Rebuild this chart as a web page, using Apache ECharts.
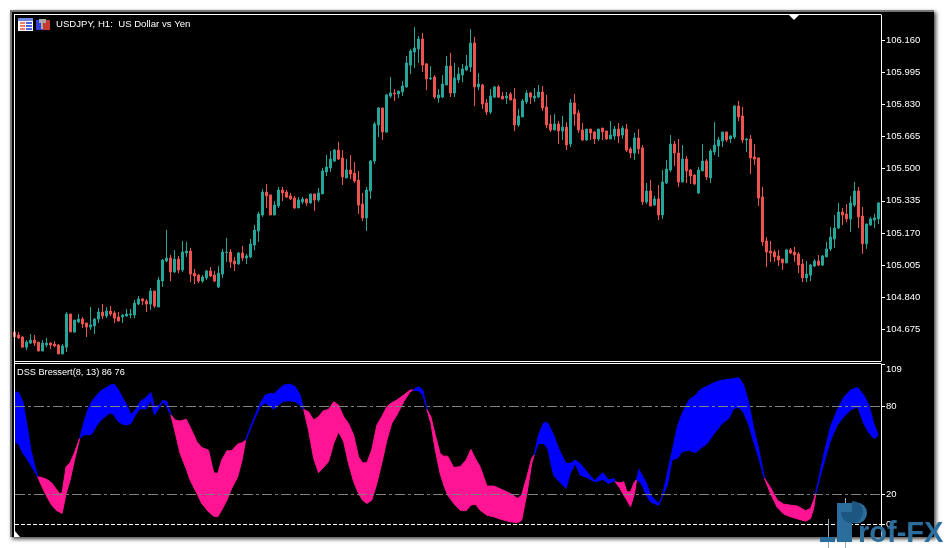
<!DOCTYPE html>
<html>
<head>
<meta charset="utf-8">
<title>USDJPY H1</title>
<script src="https://cdn.jsdelivr.net/npm/echarts@6/dist/echarts.min.js"></script>
<style>
html, body { margin: 0; padding: 0; background: #fff; }
#main { width: 947px; height: 548px; }
</style>
</head>
<body>
<div id="main"></div>
<script>
const opens = [
  104.662,104.646,104.636,104.584,104.605,104.620,104.610,104.564,104.595,104.605,
  104.600,104.595,104.549,104.584,104.754,104.662,104.713,104.728,104.708,104.687,
  104.693,104.728,104.764,104.744,104.769,104.759,104.739,104.739,104.744,104.749,
  104.749,104.805,104.831,104.821,104.805,104.872,104.790,104.923,105.026,105.041,
  104.970,105.036,104.980,105.067,105.077,104.964,104.954,104.923,104.939,104.975,
  104.954,104.893,104.959,105.069,105.072,105.026,105.011,105.067,105.041,105.047,
  105.108,105.180,105.262,105.380,105.365,105.262,105.308,105.390,105.380,105.360,
  105.349,105.298,105.329,105.344,105.324,105.370,105.339,105.370,105.483,105.503,
  105.539,105.595,105.554,105.452,105.493,105.477,105.441,105.318,105.247,105.385,
  105.539,105.724,105.811,105.688,105.872,105.888,105.883,105.893,105.919,106.031,
  106.098,106.114,106.165,106.037,105.960,105.970,105.862,105.867,105.929,106.026,
  105.888,105.955,105.980,106.006,106.021,106.144,105.919,105.929,105.837,105.790,
  105.867,105.919,105.872,105.862,105.883,105.857,105.724,105.765,105.842,105.888,
  105.862,105.867,105.893,105.816,105.729,105.698,105.729,105.693,105.713,105.626,
  105.837,105.785,105.698,105.647,105.703,105.688,105.652,105.708,105.693,105.652,
  105.667,105.703,105.672,105.703,105.601,105.580,105.657,105.606,105.329,105.385,
  105.313,105.344,105.262,105.426,105.493,105.626,105.580,105.431,105.549,105.493,
  105.467,105.375,105.488,105.539,105.452,105.585,105.616,105.642,105.688,105.652,
  105.662,105.821,105.770,105.647,105.652,105.560,105.555,105.354,105.129,105.077,
  105.072,105.052,105.036,105.016,105.083,105.072,105.062,105.011,104.939,104.954,
  105.000,105.026,105.005,105.047,105.088,105.139,105.195,105.277,105.267,105.242,
  105.313,105.385,105.257,105.114,105.211,105.236,105.242
];
const closes = [
  104.638,104.631,104.584,104.610,104.620,104.605,104.564,104.605,104.605,104.595,
  104.590,104.549,104.590,104.754,104.662,104.723,104.728,104.703,104.687,104.698,
  104.728,104.764,104.744,104.769,104.754,104.733,104.718,104.749,104.754,104.754,
  104.810,104.831,104.821,104.805,104.872,104.795,104.928,105.031,105.041,104.970,
  105.036,104.980,105.072,105.077,104.959,104.949,104.923,104.944,104.975,104.949,
  104.923,104.964,105.072,105.072,105.021,105.011,105.067,105.041,105.052,105.113,
  105.185,105.267,105.380,105.360,105.262,105.313,105.390,105.375,105.354,105.344,
  105.298,105.339,105.344,105.324,105.370,105.339,105.375,105.488,105.508,105.549,
  105.595,105.549,105.457,105.493,105.472,105.436,105.313,105.247,105.390,105.539,
  105.729,105.811,105.688,105.878,105.888,105.883,105.898,105.924,106.042,106.103,
  106.119,106.165,106.031,105.960,105.965,105.867,105.878,105.934,106.026,105.888,
  105.965,105.985,106.011,106.026,106.144,105.919,105.934,105.831,105.790,105.872,
  105.919,105.867,105.857,105.872,105.852,105.724,105.770,105.847,105.888,105.867,
  105.872,105.893,105.811,105.724,105.698,105.729,105.693,105.713,105.621,105.837,
  105.780,105.698,105.647,105.703,105.683,105.652,105.703,105.688,105.652,105.672,
  105.703,105.667,105.708,105.595,105.580,105.657,105.601,105.329,105.385,105.308,
  105.344,105.262,105.431,105.498,105.626,105.580,105.431,105.549,105.488,105.462,
  105.421,105.493,105.539,105.457,105.590,105.621,105.647,105.688,105.647,105.667,
  105.821,105.765,105.647,105.652,105.555,105.549,105.349,105.124,105.072,105.067,
  105.047,105.031,105.016,105.083,105.067,105.057,105.005,104.939,104.959,105.005,
  105.026,105.005,105.052,105.088,105.149,105.195,105.277,105.262,105.242,105.324,
  105.385,105.252,105.114,105.216,105.242,105.247,105.324
];
const lows = [
  104.638,104.626,104.584,104.569,104.600,104.590,104.564,104.564,104.584,104.574,
  104.584,104.549,104.549,104.559,104.662,104.657,104.708,104.682,104.636,104.672,
  104.651,104.708,104.728,104.733,104.744,104.708,104.718,104.708,104.739,104.733,
  104.733,104.800,104.800,104.764,104.775,104.785,104.790,104.893,105.021,104.923,
  104.964,104.964,104.970,105.047,104.918,104.908,104.913,104.913,104.928,104.944,
  104.918,104.887,104.939,105.021,104.990,104.975,105.006,105.026,105.011,105.041,
  105.082,105.124,105.252,105.298,105.262,105.262,105.298,105.334,105.349,105.339,
  105.293,105.298,105.318,105.308,105.318,105.283,105.329,105.370,105.462,105.483,
  105.534,105.544,105.416,105.452,105.447,105.426,105.267,105.231,105.180,105.344,
  105.524,105.662,105.647,105.683,105.862,105.847,105.862,105.872,105.914,105.985,
  106.016,106.042,105.996,105.903,105.955,105.857,105.837,105.862,105.929,105.867,
  105.867,105.939,105.944,106.001,105.996,105.821,105.903,105.806,105.775,105.780,
  105.862,105.862,105.857,105.831,105.852,105.693,105.713,105.765,105.831,105.831,
  105.842,105.862,105.796,105.708,105.688,105.698,105.626,105.647,105.595,105.611,
  105.719,105.683,105.642,105.642,105.647,105.626,105.642,105.647,105.647,105.652,
  105.647,105.631,105.652,105.585,105.554,105.544,105.575,105.313,105.318,105.308,
  105.308,105.236,105.242,105.421,105.483,105.513,105.406,105.431,105.426,105.421,
  105.416,105.370,105.488,105.442,105.426,105.570,105.560,105.611,105.637,105.631,
  105.652,105.744,105.631,105.585,105.472,105.519,105.308,105.103,104.995,105.021,
  105.021,105.000,104.980,105.016,105.062,105.021,104.964,104.918,104.918,104.923,
  104.995,105.000,105.000,105.047,105.077,105.093,105.190,105.211,105.226,105.175,
  105.303,105.195,105.062,105.088,105.206,105.195,105.216
];
const highs = [
  104.662,104.662,104.641,104.620,104.651,104.646,104.610,104.620,104.631,104.610,
  104.615,104.600,104.600,104.764,104.754,104.723,104.754,104.739,104.708,104.790,
  104.733,104.785,104.805,104.790,104.795,104.769,104.764,104.754,104.780,104.780,
  104.826,104.846,104.836,104.831,104.887,104.872,104.944,105.036,105.185,105.057,
  105.082,105.052,105.129,105.124,105.093,104.985,104.959,104.954,104.980,104.995,
  104.975,105.000,105.088,105.144,105.088,105.047,105.072,105.103,105.062,105.139,
  105.211,105.278,105.395,105.421,105.365,105.334,105.406,105.406,105.390,105.375,
  105.360,105.354,105.354,105.349,105.370,105.370,105.401,105.503,105.570,105.590,
  105.601,105.637,105.595,105.549,105.570,105.534,105.488,105.375,105.406,105.544,
  105.739,105.816,105.811,105.883,105.970,105.908,105.898,105.949,106.078,106.114,
  106.226,106.180,106.196,106.042,106.026,105.980,105.908,105.980,106.078,106.093,
  106.042,106.021,106.037,106.083,106.216,106.175,105.990,105.934,105.857,105.908,
  105.924,105.929,105.893,105.893,105.893,105.914,105.806,105.857,105.903,105.893,
  105.914,105.929,105.924,105.878,105.775,105.780,105.744,105.770,105.739,105.857,
  105.883,105.801,105.734,105.703,105.703,105.693,105.703,105.708,105.693,105.744,
  105.719,105.734,105.719,105.729,105.611,105.683,105.703,105.621,105.426,105.442,
  105.360,105.416,105.493,105.544,105.672,105.642,105.652,105.621,105.565,105.498,
  105.472,105.508,105.626,105.549,105.601,105.739,105.662,105.688,105.688,105.672,
  105.826,105.847,105.816,105.657,105.672,105.626,105.555,105.406,105.149,105.129,
  105.083,105.083,105.036,105.088,105.093,105.098,105.072,105.036,105.026,105.011,
  105.036,105.057,105.057,105.124,105.200,105.262,105.324,105.298,105.318,105.360,
  105.431,105.406,105.303,105.216,105.252,105.267,105.329
];
const priceTicks = [104.675, 104.840, 105.005, 105.170, 105.335, 105.500, 105.665, 105.830, 105.995, 106.160];

// DSS Bressert band, read at the bends of its two edges
const dssBars = [
  0,1,2.1,3.1,4.1,5.1,5.8,6.8,8.1,9.3,10.6,11.3,11.9,12.9,13.9,14.9,16.3,17.3,18.3,19.3,
  20.6,21.8,23.1,23.9,24.9,26,27.1,28.1,29.1,30.2,31.4,32.9,34.1,35,36.3,37.1,38.1,39.1,
  40.2,41.4,42.9,43.9,45.6,46.8,48.5,49.8,50.8,51.8,53.1,54.3,55.8,56.9,57.8,58.9,60.2,
  61.4,62.7,63.9,64.8,66,67.3,68.9,70.2,71.4,72.3,73.5,74.8,76,77.2,78.5,79.8,81,82.3,
  83.5,84.8,86,87,88.1,89.3,90.6,91.8,93.1,94.3,95.6,97.3,98.9,99.6,101,102.1,103.1,
  104.1,105.2,106.4,107.3,108.3,109.8,111.4,112.9,114.1,115.2,116.4,118.1,119.8,121.8,
  123.9,125.8,126.8,128.1,129.3,129.9,131,132.3,133.3,134.8,136,137.9,138.9,140.2,141.4,
  143.1,145,147.1,148.5,149.9,150.2,151.4,152.3,153.1,154,155,155.5,156.1,156.9,158,159,
  161,161.9,163.2,164.4,165.7,166.9,168.6,170.3,171.5,173.2,174.8,176.9,178.6,179.8,
  181.1,182.3,183.6,184.8,186.1,187.5,189,190.7,192.3,194,195.7,197.8,199,199.8,200.3,
  201.5,202.8,204,205.7,207.3,209,210.8,212.3,213.6,214.8,215.8
];
const dssHigh = [
  90.1,89.6,83.3,67.4,50.3,38.9,32.1,31.7,30.3,28,23.1,20.8,21.2,39,41.7,48,58.3,68.5,77.6,83.3,
  87.8,91.2,93,94.6,95.3,91.2,85.5,81,74.2,77.6,83.3,86.2,89.6,79.9,81,84.4,83.3,74.2,
  70.8,70.1,71.4,66.2,56,52.1,50.3,34.9,34.4,43.5,49.9,49.9,54.4,55.3,57.1,65.5,74.2,
  82.1,87.8,88.9,88.5,91.7,94.6,95.3,93.5,87.8,78,76.4,70.8,73,77.1,78,83.3,81,73,
  68.5,60.5,45.8,41.7,41.7,50.3,67.4,73,79.9,82.6,84.4,87.8,91.2,91.2,93.5,91.2,78,
  73,60.5,48,46.2,46.2,38.5,39,43.5,50.8,44.6,39,25.8,25.8,23.5,
  20.8,17.4,19.7,32.1,44.6,46.9,60.5,68.9,68.9,60.5,51.5,41.2,41.2,43.5,41.2,
  35.5,29.4,34.9,29.9,31,28.7,28,28.7,21.9,21.9,28.7,29.9,37.1,33.3,27.6,19.7,
  14,18.1,34.4,49.2,66.2,75.3,84.4,87.8,91.7,93.9,96.2,98,98.5,99.2,
  99.6,94.6,82.1,65.1,50.3,31,24.9,16.2,13.5,12.8,12.2,9,10.6,16.2,20.8,
  36.7,52.6,66.2,77.6,86.2,91.2,93,87.8,81,68.5,61.7
];
const dssLow = [
  55.3,54.9,48,44.6,40.1,35.5,32.1,25.8,18.5,12.8,9,8,7.2,20.8,29.9,42.4,58.3,60.8,60.8,61.2,
  67.4,71.2,74.2,75.8,74.2,69.6,68,67.4,68.5,74.2,78.7,78.3,84.4,74.2,79.9,83.3,79.9,74.2,
  62.1,48,37.8,29.9,20.8,14,8.3,5.3,4.9,9.4,16.2,24.2,32.1,43.5,57.1,64.4,72.6,
  79.9,82.6,79.9,78.3,81,83.7,83.9,83.3,81,78,64,44.6,34.9,38.5,42.4,54.9,62.8,56,
  41.2,28.7,20.8,16.2,14,16.2,27.6,41.2,57.1,68.5,74.2,83.3,90.1,91.2,90.8,87.8,78,
  68.5,50.3,34.4,26.5,19.7,14,9.4,9,12.8,13.5,9.4,6,4.9,3,
  1.5,0.8,2.6,20.8,41.2,46.9,54.9,54.9,51.4,33.3,29.4,24.2,34.4,41.2,33.3,
  31.7,28.7,30.3,27.6,29.4,28.7,24.2,19.7,16.2,11.7,20.8,29.9,29.4,26.5,19.7,15.1,
  12.6,18.1,26.5,44,44.6,49.2,50.3,48.7,51.5,54.9,61.2,68.5,71.9,78.7,
  79.4,75.8,67.4,56,44.6,31,20.8,11.2,6.7,4.9,3.5,1.9,3.7,10.6,20.8,
  33.3,45.8,57.1,67.4,73,77.6,79.9,68.5,62.1,58.3,59.9
];
// bars where the two edges cross and the band changes colour, first part is blue
const dssCrossings = [5.8, 16.3, 39.1, 57.8, 72.3, 99.6, 103.1, 129.9, 150.2, 155.5, 187.5, 200.3];
const dssTicks = [0, 20, 80, 109];

const bullColor = '#26a69a';
const bearColor = '#ef5350';
const labelFont = '"Liberation Sans", sans-serif';
const markColor = '#2b6d9c';

function bandColor(i) {
  let mid = (dssBars[i] + dssBars[i + 1]) / 2;
  let n = dssCrossings.filter(c => c <= mid).length;
  return n % 2 == 0 ? '#0000ff' : '#ff1493';
}

// one polygon for each run of knots of the same colour, the first knot of the run draws it
function drawBand(params, api) {
  let i = params.dataIndex;
  if (i == dssBars.length - 1) return;
  if (i > 0 && bandColor(i - 1) == bandColor(i)) return;
  let color = bandColor(i);
  let j = i + 1;
  while (j < dssBars.length - 1 && bandColor(j) == color) j++;
  let points = [];
  for (let k = i; k <= j; k++) points.push(api.coord([dssBars[k], dssHigh[k]]));
  for (let k = j; k >= i; k--) points.push(api.coord([dssBars[k], dssLow[k]]));
  return {
    type: 'polygon',
    shape: { points: points },
    style: { fill: color, stroke: color, lineWidth: 1 }
  };
}

function box(x, y, w, h, fill, z) {
  return { type: 'rect', z: z, silent: true, shape: { x: x, y: y, width: w, height: h }, style: { fill: fill } };
}

let myChart = echarts.init(document.querySelector('#main'), null, { width: 947, height: 548 });

let option = {
  animation: false,
  backgroundColor: '#ffffff',
  title: [
    { text: 'USDJPY, H1:  US Dollar vs Yen', left: 56, top: 19, padding: 0,
      textStyle: { color: '#fff', fontSize: 9.6, fontWeight: 'normal', fontFamily: 'Liberation Sans' } },
    { text: 'DSS Bressert(8, 13) 86 76', left: 17, top: 368, padding: 0,
      textStyle: { color: '#fff', fontSize: 9.2, fontWeight: 'normal', fontFamily: 'Liberation Sans' } }
  ],
  grid: [
    { left: 15, top: 15, width: 866, height: 346 },
    { left: 15, top: 364, width: 866, height: 173 }
  ],
  xAxis: [
    { type: 'value', gridIndex: 0, min: 0.125, max: 216.625, show: false },
    { type: 'value', gridIndex: 1, min: 0.125, max: 216.625, show: false }
  ],
  yAxis: [
    {
      type: 'value', gridIndex: 0, position: 'right', min: 104.513, max: 106.288, scale: true,
      splitLine: { show: false },
      axisLine: { show: true, lineStyle: { color: '#fff', width: 1 } },
      axisTick: { show: true, length: 4, customValues: priceTicks, lineStyle: { color: '#fff' } },
      axisLabel: {
        customValues: priceTicks, color: '#fff', fontSize: 9.5, fontFamily: labelFont, margin: 5,
        formatter: v => v.toFixed(3)
      }
    },
    {
      type: 'value', gridIndex: 1, position: 'right', min: -8.9, max: 109,
      splitLine: { show: false },
      axisLine: { show: true, lineStyle: { color: '#fff', width: 1 } },
      axisTick: { show: true, length: 4, customValues: dssTicks, lineStyle: { color: '#fff' } },
      axisLabel: {
        customValues: dssTicks, color: '#fff', fontSize: 9.5, fontFamily: labelFont, margin: 5,
        verticalAlignMaxLabel: 'top'
      }
    }
  ],
  series: [
    {
      type: 'candlestick',
      name: 'USDJPY',
      xAxisIndex: 0,
      yAxisIndex: 0,
      barWidth: 2,
      encode: { x: 0, y: [1, 2, 3, 4] },
      itemStyle: { color: bullColor, color0: bearColor, borderColor: bullColor, borderColor0: bearColor, borderWidth: 1 },
      data: opens.map((o, i) => [i, o, closes[i], lows[i], highs[i]])
    },
    {
      type: 'custom',
      name: 'DSS Bressert',
      xAxisIndex: 1,
      yAxisIndex: 1,
      renderItem: drawBand,
      encode: { x: 0, y: [1, 2] },
      data: dssBars.map((b, i) => [b, dssHigh[i], dssLow[i]])
    },
    {
      type: 'line',
      name: 'levels',
      xAxisIndex: 1,
      yAxisIndex: 1,
      data: [],
      markLine: {
        silent: true,
        symbol: 'none',
        animation: false,
        label: { show: false },
        data: [
          { yAxis: 80, lineStyle: { color: '#808080', width: 1, type: [10, 3, 3, 3] } },
          { yAxis: 20, lineStyle: { color: '#808080', width: 1, type: [10, 3, 3, 3] } },
          { yAxis: 0, lineStyle: { color: '#ffffff', width: 1, type: [4, 2] } }
        ]
      }
    }
  ],
  graphic: [
    // window frame
    { type: 'rect', z: -10, silent: true, shape: { x: 10, y: 10, width: 924, height: 527 },
      style: { fill: '#777', shadowColor: 'rgba(0,0,0,0.75)', shadowBlur: 4, shadowOffsetX: 2, shadowOffsetY: 2 } },
    box(12, 12, 922, 525, '#000', -9),
    box(14, 14, 1, 523, '#fff', 20),
    box(14, 14, 867, 1, '#fff', 20),
    box(14, 361, 867, 1, '#fff', 20),
    box(14, 363, 867, 1, '#fff', 20),
    { type: 'polygon', z: 20, silent: true, shape: { points: [[789, 15], [799, 15], [794, 20]] }, style: { fill: '#fff' } },
    { type: 'polygon', z: 20, silent: true, shape: { points: [[15, 531], [15, 537], [20, 537]] }, style: { fill: '#fff' } },
    // table icon
    box(18, 18, 15, 13, '#fff', 20),
    box(18, 18, 15, 3, '#6f83e0', 20),
    box(20, 22, 5, 2, '#ef7a6a', 20), box(20, 25, 5, 2, '#ef7a6a', 20), box(20, 28, 5, 2, '#ef7a6a', 20),
    box(26, 22, 6, 2, '#4a62e0', 20), box(26, 25, 6, 2, '#4a62e0', 20), box(26, 28, 6, 2, '#4a62e0', 20),
    // objects icon
    box(36, 20, 7, 10, '#3340d8', 20),
    box(43, 20, 7, 10, '#c8382e', 20),
    box(39, 19, 7, 4, '#a8a8a8', 20),
    box(41, 23, 2, 6, '#a8a8a8', 20),
    // watermark logo
    box(828, 519, 1, 29, '#8fa9bb', 21),
    box(845, 498, 1, 50, '#8fa9bb', 21),
    box(820, 537, 15, 5, markColor, 22),
    box(837, 503, 15, 39, markColor, 22),
    box(852, 503, 5, 20, markColor, 22),
    { type: 'circle', z: 22, silent: true, shape: { cx: 856.5, cy: 513, r: 10.5 }, style: { fill: markColor } },
    { type: 'sector', z: 23, silent: true,
      shape: { cx: 852, cy: 512, r: 11, r0: 0, startAngle: -Math.PI / 2, endAngle: Math.PI },
      style: { fill: '#1d5680' } },
    { type: 'text', z: 24, silent: true, x: 858, y: 548,
      style: { text: 'rof-FX', fill: markColor, font: 'bold 29px "Liberation Sans"', verticalAlign: 'bottom' } }
  ]
};

myChart.setOption(option);
</script>
</body>
</html>
